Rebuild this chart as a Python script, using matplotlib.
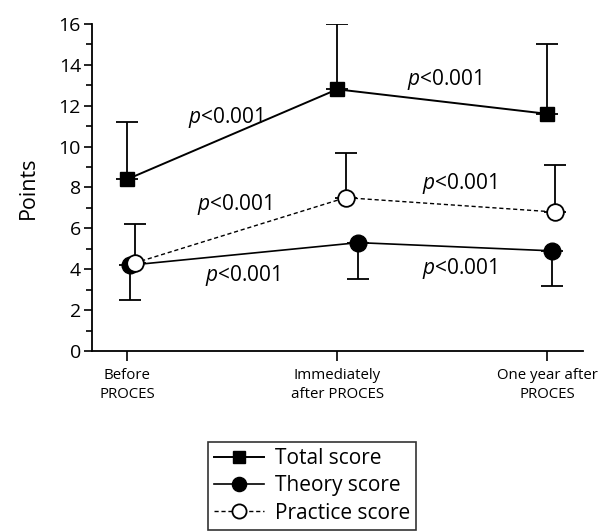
import matplotlib
matplotlib.use('Agg')
import numpy as np
import matplotlib.pyplot as plt
from matplotlib.ticker import MultipleLocator

plt.rcParams['font.family'] = ['Open Sans', 'DejaVu Sans']
plt.rcParams['mathtext.fontset'] = 'custom'
plt.rcParams['mathtext.rm'] = 'Open Sans'
plt.rcParams['mathtext.it'] = 'Open Sans:italic'

########################### data
categories = ['Before\nPROCES', 'Immediately\nafter PROCES', 'One year after\nPROCES']
total = [8.4, 12.8, 11.6]
total_up = [11.2, 16.0, 15.0]
theory = [4.2, 5.3, 4.9]
theory_low = [2.5, 3.5, 3.2]
practice = [4.3, 7.5, 6.8]
practice_up = [6.2, 9.7, 9.1]

x = np.arange(len(categories))
# small horizontal shifts so overlapping markers stay visible
theory_x = x + np.array([0.015, 0.10, 0.02])
practice_x = x + np.array([0.035, 0.04, 0.035])

fig = plt.figure(figsize=(5.98, 5.31), dpi=100)
ax = fig.add_axes([0.154, 0.339, 0.821, 0.616])

lw = 1.3
ax.errorbar(x, total, yerr=[np.zeros(3), np.array(total_up) - total], fmt='none',
            ecolor='black', elinewidth=lw, capsize=8, capthick=lw)
ax.errorbar(practice_x, practice, yerr=[np.zeros(3), np.array(practice_up) - practice], fmt='none',
            ecolor='black', elinewidth=lw, capsize=8, capthick=lw)
ax.errorbar(theory_x, theory, yerr=[np.array(theory) - theory_low, np.zeros(3)], fmt='none',
            ecolor='black', elinewidth=lw, capsize=8, capthick=lw)

ax.plot(x, total, '-', color='black', lw=1.4, marker='s', ms=9.5, mfc='black', mec='black',
        label='Total score', zorder=3)
ax.plot(theory_x, theory, '-', color='black', lw=1.2, marker='o', ms=12, mfc='black', mec='black',
        label='Theory score', zorder=3)
ax.plot(practice_x, practice, '--', color='black', lw=1.0, dashes=(3, 2), marker='o', ms=12,
        mfc='white', mec='black', mew=1.3, label='Practice score', zorder=4)

# p-value labels
pfs = 15
ax.text(0.47, 11.4, '$p$<0.001', fontsize=pfs, ha='center', va='center')
ax.text(1.51, 13.3, '$p$<0.001', fontsize=pfs, ha='center', va='center')
ax.text(0.51, 7.15, '$p$<0.001', fontsize=pfs, ha='center', va='center')
ax.text(1.58, 8.2, '$p$<0.001', fontsize=pfs, ha='center', va='center')
ax.text(0.55, 3.7, '$p$<0.001', fontsize=pfs, ha='center', va='center')
ax.text(1.58, 4.05, '$p$<0.001', fontsize=pfs, ha='center', va='center')

ax.set_xlim(-0.167, 2.17)
ax.set_ylim(0, 16)
ax.yaxis.set_major_locator(MultipleLocator(2))
ax.yaxis.set_minor_locator(MultipleLocator(1))
ax.set_xticks(x, labels=categories)
for t in ax.get_xticklabels():
    t.set_linespacing(1.4)
ax.tick_params(axis='y', which='major', length=6, width=1.2, labelsize=14, direction='out', pad=2)
ax.tick_params(axis='y', which='minor', length=4, width=1.2, direction='out')
ax.tick_params(axis='x', length=7, width=1.2, labelsize=10.8, direction='out', pad=5)
for s in ['top', 'right']:
    ax.spines[s].set_visible(False)
for s in ['left', 'bottom']:
    ax.spines[s].set_linewidth(1.3)
ax.set_ylabel('Points', fontsize=15.5, labelpad=14)

leg = fig.legend(loc='upper left', bbox_to_anchor=(208 / 598, 1 - 442 / 531), fontsize=15,
                 frameon=True, fancybox=False, edgecolor='black', handlelength=2.4,
                 handletextpad=0.5, labelspacing=0.3, borderpad=0.3, borderaxespad=0,
                 markerscale=0.85)
leg.get_frame().set_linewidth(1.2)

plt.savefig('out.png', dpi=100)
plt.close()
